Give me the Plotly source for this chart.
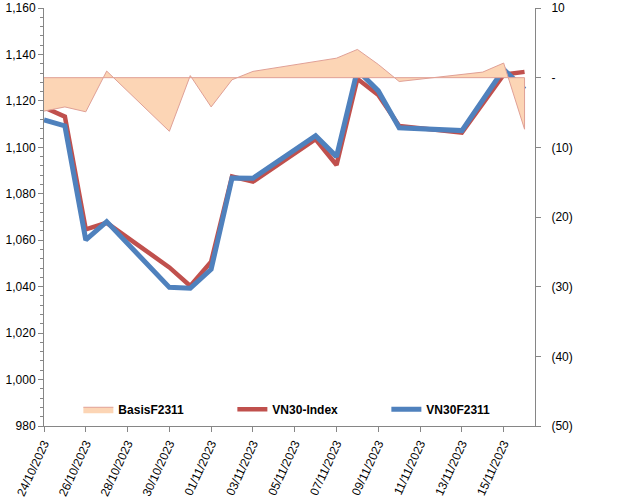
import plotly.graph_objects as go

dates = ["2023-10-24", "2023-10-25", "2023-10-26", "2023-10-27", "2023-10-30",
         "2023-10-31", "2023-11-01", "2023-11-02", "2023-11-03", "2023-11-06",
         "2023-11-07", "2023-11-08", "2023-11-09", "2023-11-10", "2023-11-13",
         "2023-11-14", "2023-11-15", "2023-11-16"]
vn30_index = [1117.2, 1113.2, 1064.7, 1067.5, 1048.3, 1040.3, 1050.8, 1087.4, 1085.2,
              1103.5, 1092.4, 1129.5, 1122.5, 1109.2, 1106.3, 1119.2, 1131.3, 1132.5]
vn30f2311 = [1111.8, 1109.2, 1060.1, 1068.0, 1039.7, 1039.3, 1047.5, 1086.8, 1086.7,
             1105.0, 1096.0, 1133.3, 1124.3, 1108.4, 1107.2, 1120.2, 1133.6, 1125.0]
basis = [-4.8, -4.2, -4.9, 0.95, -7.7, 0.3, -4.2, -0.3, 0.9,
         2.4, 2.8, 4.05, 1.9, -0.55, 0.4, 0.8, 2.1, -7.4]

left_ticks = list(range(980, 1161, 20))
right_tickvals = [10, 0, -10, -20, -30, -40, -50]
right_ticktext = ["10", "-", "(10)", "(20)", "(30)", "(40)", "(50)"]

FONT = "Liberation Sans, Arial, sans-serif"
AXIS_COL = "#868686"

fig = go.Figure()

# Basis area (closed polygon so the zero baseline and end edge are outlined)
fig.add_trace(go.Scatter(
    x=dates + [dates[-1], dates[0]],
    y=basis + [0, 0],
    mode="lines", fill="toself",
    fillcolor="#FCD5B5",
    line=dict(color="#E0A096", width=1),
    name="BasisF2311", yaxis="y2",
))
fig.add_trace(go.Scatter(
    x=dates, y=vn30_index, mode="lines", name="VN30-Index",
    line=dict(color="#C0504D", width=4.5),
))
fig.add_trace(go.Scatter(
    x=dates, y=vn30f2311, mode="lines", name="VN30F2311",
    line=dict(color="#4F81BD", width=5),
))

fig.update_layout(
    width=640, height=501,
    margin=dict(l=44, r=105, t=8, b=75),
    paper_bgcolor="white", plot_bgcolor="white",
    font=dict(family=FONT, size=12, color="black"),
    showlegend=True,
    legend=dict(orientation="h", x=0.07, y=0.04, xanchor="left", yanchor="middle",
                bgcolor="rgba(0,0,0,0)", entrywidth=109,
                font=dict(family=FONT, size=12, color="black", weight="bold"),
                traceorder="normal"),
    xaxis=dict(
        type="date", automargin=False,
        range=["2023-10-24", "2023-11-16 12:00"],
        tick0="2023-10-24", dtick=2 * 86400000,
        tickformat="%d/%m/%Y", tickangle=-65,
        showgrid=False, zeroline=False,
        showline=True, linecolor=AXIS_COL, linewidth=1,
        ticks="outside", ticklen=5, tickcolor=AXIS_COL,
        tickfont=dict(family=FONT, size=12),
    ),
    yaxis=dict(
        range=[980, 1160], tickvals=left_ticks, tickformat=",", automargin=False,
        showgrid=False, zeroline=False,
        showline=True, linecolor=AXIS_COL, linewidth=1,
        ticks="outside", ticklen=5, tickcolor=AXIS_COL,
        minor=dict(dtick=4, ticks="outside", ticklen=3, tickcolor=AXIS_COL),
        tickfont=dict(family=FONT, size=12),
    ),
    yaxis2=dict(
        range=[-50, 10], overlaying="y", side="right", automargin=False,
        tickvals=right_tickvals, ticktext=right_ticktext,
        showgrid=False, zeroline=False,
        showline=True, linecolor=AXIS_COL, linewidth=1,
        ticks="outside", ticklen=5, tickcolor=AXIS_COL,
        ticklabelstandoff=8,
        tickfont=dict(family=FONT, size=12),
    ),
)

fig.write_html("out.html", config={"displayModeBar": False},
               post_script="document.body.style.margin='0';document.body.style.overflow='hidden';")
